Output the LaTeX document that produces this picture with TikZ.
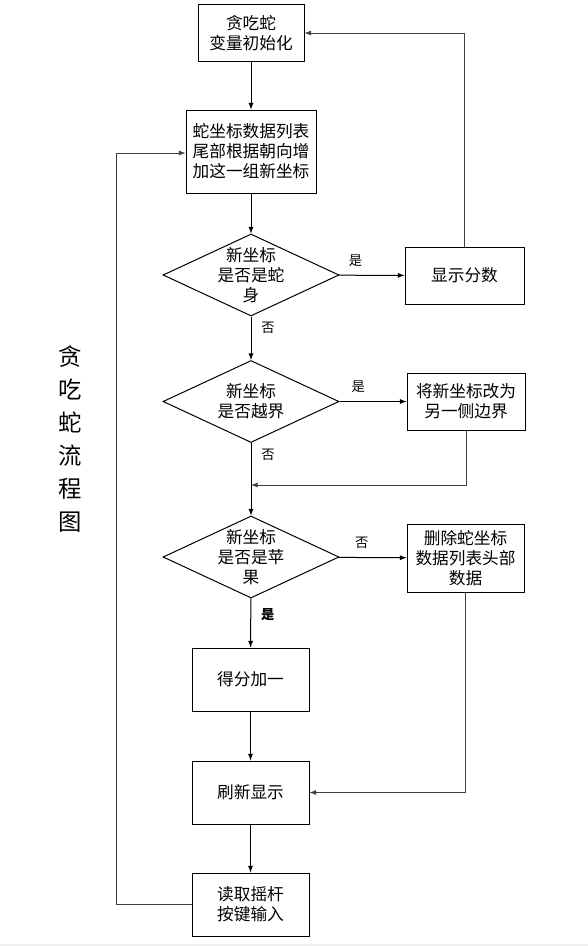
\documentclass[tikz,border=0pt]{standalone}
\usepackage{fontspec}
\newfontfamily\cjk{Noto Sans CJK SC}
\usetikzlibrary{shapes.geometric}

\begin{document}
\begin{tikzpicture}[x=0.75pt, y=-0.75pt, font=\cjk\fontsize{12.5}{15}\selectfont,
  box/.style={draw, rectangle, align=center, line width=0.75pt},
  decision/.style={draw, diamond, minimum width=132pt, minimum height=61.5pt, inner sep=0pt, line width=0.75pt},
  arrow/.style={draw, -latex, line width=0.75pt},
  back/.style={draw, -latex, line width=0.75pt, black!75},
  tag/.style={font=\cjk\fontsize{10}{12}\selectfont}]

\useasboundingbox (0,0) rectangle (588,946);
\fill[gray!12] (0,944) rectangle (588,946);

% 标题
\node (title) [font=\cjk\fontsize{17.5}{24.75}\selectfont, align=center] at (70,439) {贪\\吃\\蛇\\流\\程\\图};

% 初始化
\node (init) [box, minimum width=79.5pt, minimum height=42.75pt] at (251,33) {贪吃蛇\\变量初始化};

% 增加新坐标
\node (append) [box, minimum width=97.5pt, minimum height=62.25pt] at (251,151.5) {蛇坐标数据列表\\尾部根据朝向增\\加这一组新坐标};
\path[arrow] (init) -- (append);

% 判断：蛇身
\node (body) [decision, label={[align=center]center:新坐标\\是否是蛇\\身}] at (251,275) {};
\node (score) [box, minimum width=89.25pt, minimum height=42.75pt] at (464.5,275.5) {显示分数};
\path[arrow] (append) -- (body);
\path[arrow] (body) -- node[tag, pos=0.25, above=3pt] {是} (score);
\path[back] (score.north) |- (init.east);

% 判断：越界
\node (edge) [decision, label={[align=center]center:新坐标\\是否越界}] at (251,401.5) {};
\node (wrap) [box, minimum width=88.5pt, minimum height=42.75pt] at (466,401.5) {将新坐标改为\\另一侧边界};
\path[arrow] (body) -- node[tag, pos=0.27, right=4pt] {否} (edge);
\path[arrow] (edge) -- node[tag, pos=0.28, above=3pt] {是} (wrap);
\coordinate (merge) at (251,485);
\path[back] (wrap.south) |- (merge);

% 判断：苹果
\node (apple) [decision, label={[align=center]center:新坐标\\是否是苹\\果}] at (251,557) {};
\node (drop) [box, minimum width=87.75pt, minimum height=51pt] at (465.5,558) {删除蛇坐标\\数据列表头部\\数据};
\path[arrow] (edge) -- node[tag, pos=0.16, right=4pt] {否} (apple);
\path[arrow] (apple) -- node[tag, pos=0.34, above=3pt] {否} (drop);

% 得分
\node (plus) [box, minimum width=87.75pt, minimum height=47.25pt] at (250.5,679.5) {得分加一};
\path[arrow] (apple) -- node[tag, pos=0.34, right=4pt, font=\cjk\fontsize{10}{12}\selectfont\bfseries] {是} (plus);

% 刷新显示
\node (refresh) [box, minimum width=87.75pt, minimum height=47.25pt] at (250.5,792.5) {刷新显示};
\path[arrow] (plus) -- (refresh);
\path[back] (drop.south) |- (refresh.east);

% 读取输入
\node (read) [box, minimum width=87.75pt, minimum height=47.25pt] at (250.5,904.5) {读取摇杆\\按键输入};
\path[arrow] (refresh) -- (read);
\coordinate (loop) at (116,153);
\path[back] (read.west) -| (loop) -- (append.west |- loop);

\end{tikzpicture}
\end{document}
